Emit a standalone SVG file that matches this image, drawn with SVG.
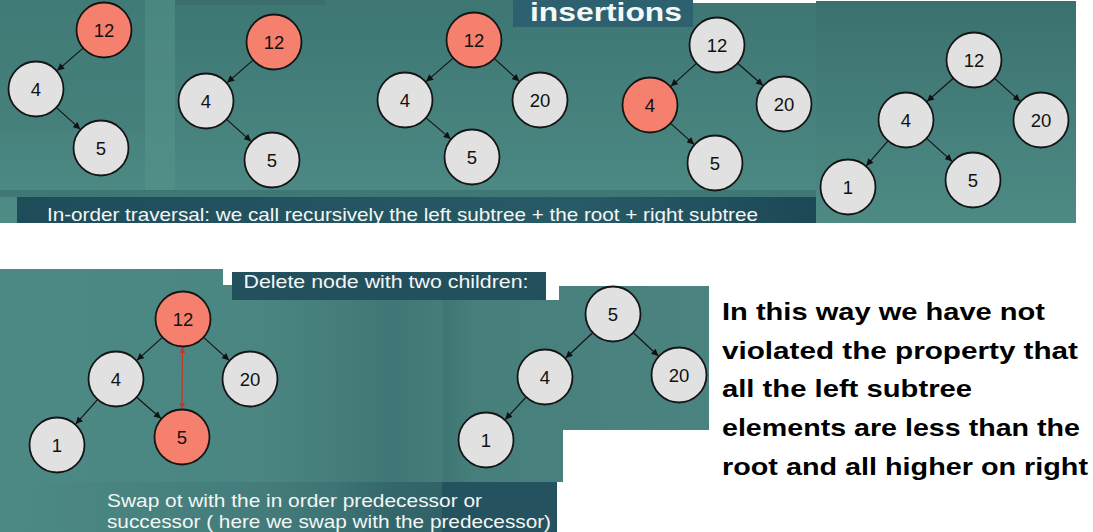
<svg xmlns="http://www.w3.org/2000/svg" width="1093" height="532" viewBox="0 0 1093 532">
<style>
.n circle{fill:#e1e1e1;stroke:#151515;stroke-width:1.8}
.n.r circle{fill:#f6806e}
.n text{font-family:"Liberation Sans",Arial,sans-serif;font-size:18.5px;fill:#111;text-anchor:middle}
.e line{stroke:#111;stroke-width:1.1;marker-end:url(#ah)}
.cap{font-family:"Liberation Sans",Arial,sans-serif;font-size:18.5px;fill:#f4f6f6}
.big{font-family:"Liberation Sans",Arial,sans-serif;font-size:24px;font-weight:bold;fill:#000}
</style>
<defs>
<linearGradient id="tealV" x1="0" y1="0" x2="0" y2="1">
<stop offset="0" stop-color="#3d7673"/>
<stop offset="1" stop-color="#4f8c86"/>
</linearGradient>
<linearGradient id="tealV2" x1="0" y1="0" x2="0" y2="1">
<stop offset="0" stop-color="#3a716f"/>
<stop offset="1" stop-color="#4e8b85"/>
</linearGradient>
<linearGradient id="tealH" x1="0" y1="0" x2="1" y2="0">
<stop offset="0" stop-color="#4d8a85"/>
<stop offset="0.6" stop-color="#4a8581"/>
<stop offset="0.88" stop-color="#407776"/>
<stop offset="1" stop-color="#457d7a"/>
</linearGradient>
<linearGradient id="darkBar" x1="0" y1="0" x2="1" y2="0">
<stop offset="0" stop-color="#1f4c59"/>
<stop offset="0.7" stop-color="#275b66"/>
<stop offset="1" stop-color="#1d4856"/>
</linearGradient>
<linearGradient id="fadeBar" x1="0" y1="0" x2="1" y2="0">
<stop offset="0" stop-color="#1f4c59" stop-opacity="0"/>
<stop offset="0.6" stop-color="#1f4c59" stop-opacity="0.2"/>
<stop offset="1" stop-color="#1f4c59" stop-opacity="0.9"/>
</linearGradient>
<linearGradient id="p2" x1="0" y1="0" x2="1" y2="0">
<stop offset="0" stop-color="#3e7674"/>
<stop offset="0.12" stop-color="#467f7c"/>
<stop offset="1" stop-color="#4a837f"/>
</linearGradient>
<marker id="ah" viewBox="0 0 10 10" refX="10" refY="5" markerWidth="8" markerHeight="7" markerUnits="userSpaceOnUse" orient="auto">
<path d="M0,0 L10,5 L0,10 z" fill="#111"/>
</marker>
<marker id="rh" viewBox="0 0 10 10" refX="10" refY="5" markerWidth="7" markerHeight="6" markerUnits="userSpaceOnUse" orient="auto-start-reverse">
<path d="M0,0 L10,5 L0,10 z" fill="#c0392b"/>
</marker>
<clipPath id="capClip"><rect x="17" y="197" width="799" height="26"/></clipPath>
</defs>

<rect width="1093" height="532" fill="#ffffff"/>

<g id="top-background">
<rect x="0" y="0" width="816" height="223" fill="url(#tealV)"/>
<rect x="0" y="0" width="145" height="130" fill="#447e7a" opacity="0.6"/>
<rect x="145" y="0" width="30" height="190" fill="#55928b" opacity="0.6"/>
<rect x="175" y="0" width="150" height="5" fill="#3a6f6d"/>
<rect x="0" y="190" width="816" height="7" fill="#3f7774"/>
<rect x="693" y="0" width="123" height="3" fill="#ffffff"/>
<rect x="816" y="1" width="260" height="222" fill="url(#tealV2)"/>
<rect x="17" y="197" width="799" height="26" fill="url(#darkBar)"/>
<rect x="513" y="0" width="180" height="27" fill="#2d6170"/>
<text x="530" y="21" font-family="'Liberation Sans',Arial,sans-serif" font-size="25" font-weight="bold" fill="#f4f8f8" textLength="152" lengthAdjust="spacingAndGlyphs">insertions</text>
<text class="cap" x="47" y="220.5" textLength="711" lengthAdjust="spacingAndGlyphs" clip-path="url(#capClip)">In-order traversal: we call recursively the left subtree + the root + right subtree</text>
</g>

<g id="bottom-background">
<path d="M0,269 H223 V285 H446 V532 H0 Z" fill="url(#tealH)"/>
<rect x="232" y="272" width="314" height="28" fill="#22505d"/>
<text class="cap" x="243.5" y="288" textLength="285" lengthAdjust="spacingAndGlyphs">Delete node with two children:</text>
<path d="M443,300 H559 V286 H709 V430 H563 V482 H443 Z" fill="url(#p2)"/>
<rect x="0" y="482" width="557" height="50" fill="url(#fadeBar)"/>
<rect x="442" y="482" width="115" height="50" fill="#24535f"/>
<text class="cap" x="107" y="507" textLength="375" lengthAdjust="spacingAndGlyphs">Swap ot with the in order predecessor or</text>
<text class="cap" x="107" y="528" textLength="444" lengthAdjust="spacingAndGlyphs">successor ( here we swap with the predecessor)</text>
</g>

<g id="note">
<text class="big" x="722" y="320" textLength="323" lengthAdjust="spacingAndGlyphs">In this way we have not</text>
<text class="big" x="722" y="359" textLength="356" lengthAdjust="spacingAndGlyphs">violated the property that</text>
<text class="big" x="722" y="397" textLength="250" lengthAdjust="spacingAndGlyphs">all the left subtree</text>
<text class="big" x="722" y="436" textLength="358" lengthAdjust="spacingAndGlyphs">elements are less than the</text>
<text class="big" x="722" y="475" textLength="366" lengthAdjust="spacingAndGlyphs">root and all higher on right</text>
</g>

<g id="connectors" class="e">
<line x1="82.8" y1="48.4" x2="57.2" y2="70.6"/>
<line x1="56.7" y1="107.8" x2="80.3" y2="129.2"/>
<line x1="252.8" y1="60.4" x2="227.2" y2="82.6"/>
<line x1="226.9" y1="119.7" x2="251.1" y2="141.3"/>
<line x1="452.9" y1="58.4" x2="426.1" y2="81.6"/>
<line x1="494.7" y1="58.8" x2="519.3" y2="81.2"/>
<line x1="426.3" y1="118.1" x2="450.7" y2="138.9"/>
<line x1="696.1" y1="63.7" x2="670.9" y2="86.3"/>
<line x1="738" y1="63.5" x2="763" y2="85.5"/>
<line x1="670.9" y1="123.6" x2="694.1" y2="144.4"/>
<line x1="953" y1="78.5" x2="927" y2="101.5"/>
<line x1="994.9" y1="78.7" x2="1020.1" y2="101.3"/>
<line x1="887.7" y1="141.2" x2="866.3" y2="165.8"/>
<line x1="926.9" y1="138.7" x2="952.1" y2="161.3"/>
<line x1="162.1" y1="337.7" x2="136.9" y2="360.3"/>
<line x1="203.9" y1="337.7" x2="229.1" y2="360.3"/>
<line x1="97.3" y1="399.9" x2="75.7" y2="424.1"/>
<line x1="137" y1="397.5" x2="161" y2="418.5"/>
<line x1="182.5" y1="347" x2="182" y2="409" style="stroke:#c0392b;stroke-width:1.2;marker-start:url(#rh);marker-end:url(#rh)"/>
<line x1="592.4" y1="333" x2="565.6" y2="358"/>
<line x1="633.6" y1="333" x2="658.4" y2="356"/>
<line x1="525.8" y1="397.4" x2="505.2" y2="419.6"/>
</g>

<g id="a12" class="n r"><circle cx="104" cy="30" r="27.5"/><text x="104" y="36.5">12</text></g>
<g id="a4" class="n"><circle cx="36" cy="89" r="27.5"/><text x="36" y="95.5">4</text></g>
<g id="a5" class="n"><circle cx="101" cy="148" r="27.5"/><text x="101" y="154.5">5</text></g>

<g id="b12" class="n r"><circle cx="274" cy="42" r="27.5"/><text x="274" y="48.5">12</text></g>
<g id="b4" class="n"><circle cx="206" cy="101" r="27.5"/><text x="206" y="107.5">4</text></g>
<g id="b5" class="n"><circle cx="272" cy="160" r="27.5"/><text x="272" y="166.5">5</text></g>

<g id="c12" class="n r"><circle cx="474" cy="40" r="27.5"/><text x="474" y="46.5">12</text></g>
<g id="c4" class="n"><circle cx="405" cy="100" r="27.5"/><text x="405" y="106.5">4</text></g>
<g id="c20" class="n"><circle cx="540" cy="100" r="27.5"/><text x="540" y="106.5">20</text></g>
<g id="c5" class="n"><circle cx="472" cy="157" r="27.5"/><text x="472" y="163.5">5</text></g>

<g id="d12" class="n"><circle cx="717" cy="45" r="27.5"/><text x="717" y="51.5">12</text></g>
<g id="d4" class="n r"><circle cx="650" cy="105" r="27.5"/><text x="650" y="111.5">4</text></g>
<g id="d20" class="n"><circle cx="784" cy="104" r="27.5"/><text x="784" y="110.5">20</text></g>
<g id="d5" class="n"><circle cx="715" cy="163" r="27.5"/><text x="715" y="169.5">5</text></g>

<g id="e12" class="n"><circle cx="974" cy="60" r="27.5"/><text x="974" y="66.5">12</text></g>
<g id="e4" class="n"><circle cx="906" cy="120" r="27.5"/><text x="906" y="126.5">4</text></g>
<g id="e20" class="n"><circle cx="1041" cy="120" r="27.5"/><text x="1041" y="126.5">20</text></g>
<g id="e1" class="n"><circle cx="848" cy="187" r="27.5"/><text x="848" y="193.5">1</text></g>
<g id="e5" class="n"><circle cx="973" cy="180" r="27.5"/><text x="973" y="186.5">5</text></g>

<g id="f12" class="n r"><circle cx="183" cy="319" r="27.5"/><text x="183" y="325.5">12</text></g>
<g id="f4" class="n"><circle cx="116" cy="379" r="27.5"/><text x="116" y="385.5">4</text></g>
<g id="f20" class="n"><circle cx="250" cy="379" r="27.5"/><text x="250" y="385.5">20</text></g>
<g id="f1" class="n"><circle cx="57" cy="445" r="27.5"/><text x="57" y="451.5">1</text></g>
<g id="f5" class="n r"><circle cx="182" cy="437" r="27.5"/><text x="182" y="443.5">5</text></g>

<g id="g5" class="n"><circle cx="613" cy="314" r="27.5"/><text x="613" y="320.5">5</text></g>
<g id="g4" class="n"><circle cx="545" cy="377" r="27.5"/><text x="545" y="383.5">4</text></g>
<g id="g20" class="n"><circle cx="679" cy="375" r="27.5"/><text x="679" y="381.5">20</text></g>
<g id="g1" class="n"><circle cx="486" cy="440" r="27.5"/><text x="486" y="446.5">1</text></g>
</svg>
